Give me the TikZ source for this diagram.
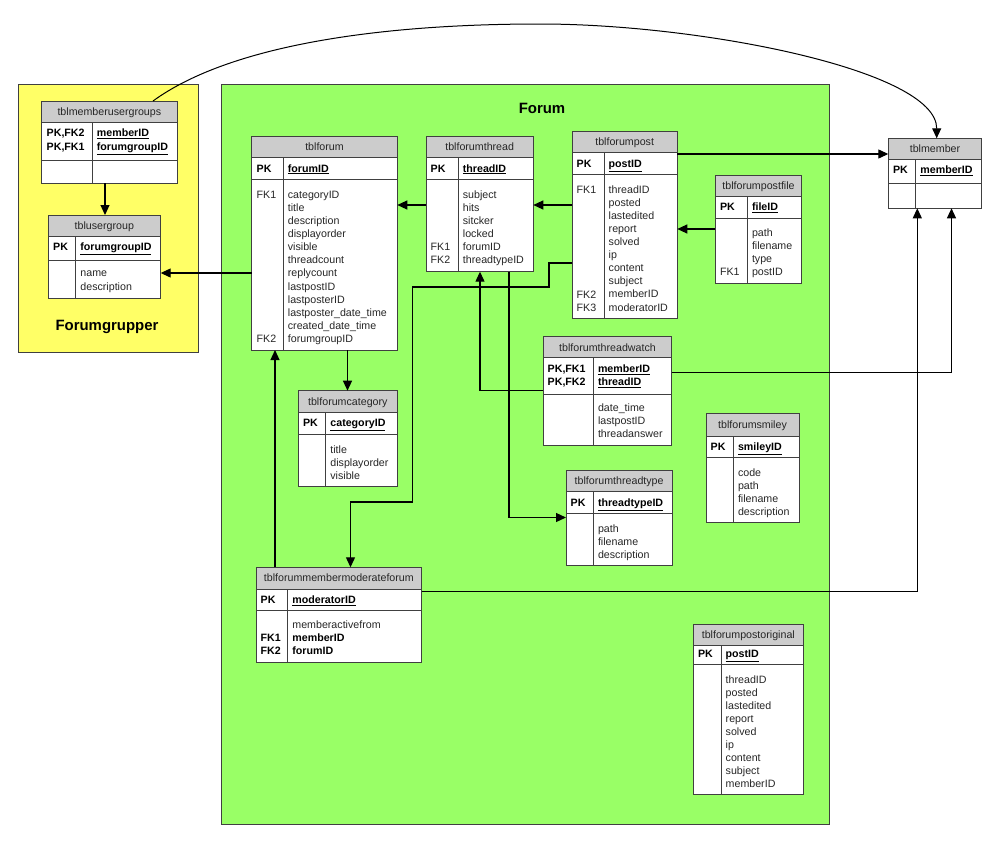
\documentclass[tikz,border=0pt]{standalone}
\usepackage{fontspec}
\setmainfont{Liberation Sans}
\usetikzlibrary{arrows.meta,fit}
\definecolor{forumgreen}{RGB}{153,255,102}
\definecolor{groupyellow}{RGB}{255,255,102}
\definecolor{hdrgray}{RGB}{204,204,204}
\definecolor{txtgray}{RGB}{38,38,38}
\definecolor{linegray}{RGB}{64,64,64}
\tikzset{
 tblframe/.style={draw=linegray, line width=0.9bp, inner sep=0pt, outer sep=0pt, rectangle},
 tblline/.style={draw=linegray, line width=0.9bp},
 hdrfill/.style={fill=hdrgray},
 hdrtext/.style={anchor=base, inner sep=0pt, text=txtgray, font=\fontsize{10.7}{13}\selectfont},
 fieldtxt/.style={anchor=base west, inner sep=0pt, text=txtgray, font=\fontsize{10.7}{13}\selectfont},
 keytxt/.style={anchor=base west, inner sep=0pt, text=black, font=\fontsize{10.7}{13}\selectfont\bfseries},
 fk/.style={draw=black, line width=1.2bp, -{Triangle[length=10bp,width=9bp]}},
 area/.style={draw=linegray, line width=0.9bp, inner sep=0pt, outer sep=0pt, rectangle},
 areatitle/.style={font=\fontsize{15}{18}\selectfont\bfseries, inner sep=0pt, anchor=base}
}
% #1 name, #2 left, #3 top, #4 right, #5 header bottom, #6 pk bottom, #7 bottom, #8 divider x, #9 title
\newcommand\ertable[9]{%
 \fill[hdrfill] (#2,#3) rectangle (#4,#5);
 \fill[white] (#2,#5) rectangle (#4,#7);
 \draw[tblline] (#2,#5) -- (#4,#5) (#2,#6) -- (#4,#6) (#8,#5) -- (#8,#7);
 \node[tblframe, fit={(#2,#3) (#4,#7)}] (#1) {};
 \node[hdrtext] (#1-title) at ({(#2+#4)/2},{(#3+#5)/2+3.8}) {#9};
}
\newcommand\erkey[4]{\node[keytxt] (#1) at (#2,{#3+3.8}) {#4};}
\newcommand\erfield[4]{\node[fieldtxt] (#1) at (#2,{#3+3.8}) {#4};}
\newcommand\erfields[5]{\foreach \fieldname [count=\fieldno] in {#5} {\node[fieldtxt] (#1-\fieldno) at (#2,{#3+3.8+(\fieldno-1)*#4}) {\fieldname};}}
\begin{document}
\begin{tikzpicture}[x=1bp,y=-1bp]
\fill[white] (0,0) rectangle (1000,847);
\useasboundingbox (0,0) rectangle (1000,847);

% areas
\node[area, fill=groupyellow, fit={(18,84) (198,352)}] (forumgrupper) {};
\node[area, fill=forumgreen, fit={(221,84) (829,824)}] (forum) {};
\node[areatitle] (forumgrupper-title) at (107,330.3) {Forumgrupper};
\node[areatitle] (forum-title) at (542,113.4) {Forum};

% tblmemberusergroups
\ertable{tblmemberusergroups}{41.7}{101}{177}{122.7}{160}{183}{92}{tblmemberusergroups}
\erkey{tblmemberusergroups-k1}{46.5}{133}{PK,FK2}
\erkey{tblmemberusergroups-k2}{46.5}{146.7}{PK,FK1}
\erkey{tblmemberusergroups-p1}{96.7}{133}{\underline{memberID}}
\erkey{tblmemberusergroups-p2}{96.7}{146.7}{\underline{forumgroupID}}

% tblusergroup
\ertable{tblusergroup}{48}{215}{160.7}{236.7}{260}{298}{75.7}{tblusergroup}
\erkey{tblusergroup-k}{53}{246.7}{PK}
\erkey{tblusergroup-p}{80.2}{246.7}{\underline{forumgroupID}}
\erfields{tblusergroup-f}{80.2}{273}{13.3}{name,description}

% tblforum
\ertable{tblforum}{251.7}{136.5}{397.3}{157.7}{179.3}{350}{283.3}{tblforum}
\erkey{tblforum-k}{256.5}{168.3}{PK}
\erkey{tblforum-p}{287.7}{168.3}{\underline{forumID}}
\erfields{tblforum-f}{287.7}{195}{13.03}{categoryID,title,description,displayorder,visible,threadcount,replycount,lastpostID,lastposterID,lastposter\_date\_time,created\_date\_time,forumgroupID}
\erfield{tblforum-fk1}{256.5}{195}{FK1}
\erfield{tblforum-fk2}{256.5}{338.3}{FK2}

% tblforumthread
\ertable{tblforumthread}{426}{136.5}{533.3}{157.7}{179.3}{271.7}{458.3}{tblforumthread}
\erkey{tblforumthread-k}{430.5}{168.3}{PK}
\erkey{tblforumthread-p}{462.7}{168.3}{\underline{threadID}}
\erfields{tblforumthread-f}{462.7}{195}{13}{subject,hits,sitcker,locked,forumID,threadtypeID}
\erfield{tblforumthread-fk1}{430.5}{247}{FK1}
\erfield{tblforumthread-fk2}{430.5}{260}{FK2}

% tblforumpost
\ertable{tblforumpost}{572}{131}{677.3}{152.7}{174.3}{318.3}{604}{tblforumpost}
\erkey{tblforumpost-k}{576.5}{163.3}{PK}
\erkey{tblforumpost-p}{608.5}{163.3}{\underline{postID}}
\erfields{tblforumpost-f}{608.5}{189.3}{13.1}{threadID,posted,lastedited,report,solved,ip,content,subject,memberID,moderatorID}
\erfield{tblforumpost-fk1}{576.5}{189.3}{FK1}
\erfield{tblforumpost-fk2}{576.5}{294.2}{FK2}
\erfield{tblforumpost-fk3}{576.5}{307.3}{FK3}

% tblforumpostfile
\ertable{tblforumpostfile}{715.3}{175}{801.7}{196}{218.3}{283.3}{747.3}{tblforumpostfile}
\erkey{tblforumpostfile-k}{719.8}{206.7}{PK}
\erkey{tblforumpostfile-p}{751.8}{206.7}{\underline{fileID}}
\erfields{tblforumpostfile-f}{751.8}{232.7}{13}{path,filename,type,postID}
\erfield{tblforumpostfile-fk1}{719.8}{271.7}{FK1}

% tblmember
\ertable{tblmember}{888.3}{138.3}{981.7}{159.3}{183.3}{208.3}{915.7}{tblmember}
\erkey{tblmember-k}{892.8}{170}{PK}
\erkey{tblmember-p}{920.2}{170}{\underline{memberID}}

% tblforumcategory
\ertable{tblforumcategory}{298.3}{390.7}{397.3}{412.3}{434}{486.7}{325.7}{tblforumcategory}
\erkey{tblforumcategory-k}{302.8}{422.7}{PK}
\erkey{tblforumcategory-p}{330.2}{422.7}{\underline{categoryID}}
\erfields{tblforumcategory-f}{330.2}{449.3}{13}{title,displayorder,visible}

% tblforumthreadwatch
\ertable{tblforumthreadwatch}{543.3}{336.7}{671.7}{357.7}{394}{445}{593.3}{tblforumthreadwatch}
\erkey{tblforumthreadwatch-k1}{547.5}{369}{PK,FK1}
\erkey{tblforumthreadwatch-k2}{547.5}{381.7}{PK,FK2}
\erkey{tblforumthreadwatch-p1}{597.8}{369}{\underline{memberID}}
\erkey{tblforumthreadwatch-p2}{597.8}{381.7}{\underline{threadID}}
\erfields{tblforumthreadwatch-f}{597.8}{407.7}{13}{date\_time,lastpostID,threadanswer}

% tblforumthreadtype
\ertable{tblforumthreadtype}{566}{470}{672.3}{491.7}{513.3}{565}{593.3}{tblforumthreadtype}
\erkey{tblforumthreadtype-k}{570.5}{502.3}{PK}
\erkey{tblforumthreadtype-p}{597.8}{502.3}{\underline{threadtypeID}}
\erfields{tblforumthreadtype-f}{597.8}{528.3}{13}{path,filename,description}

% tblforumsmiley
\ertable{tblforumsmiley}{706}{413.3}{799}{436}{457.7}{522.7}{733.3}{tblforumsmiley}
\erkey{tblforumsmiley-k}{710.5}{446.7}{PK}
\erkey{tblforumsmiley-p}{737.8}{446.7}{\underline{smileyID}}
\erfields{tblforumsmiley-f}{737.8}{472.7}{13}{code,path,filename,description}

% tblforummembermoderateforum
\ertable{tblforummembermoderateforum}{256}{567.3}{421.7}{589}{610.7}{662.3}{287.7}{tblforummembermoderateforum}
\erkey{tblforummembermoderateforum-k}{260.5}{600}{PK}
\erkey{tblforummembermoderateforum-p}{292.2}{600}{\underline{moderatorID}}
\erfield{tblforummembermoderateforum-f1}{292.2}{625}{memberactivefrom}
\erkey{tblforummembermoderateforum-f2}{292.2}{638}{memberID}
\erkey{tblforummembermoderateforum-f3}{292.2}{651}{forumID}
\erkey{tblforummembermoderateforum-fk1}{260.5}{638}{FK1}
\erkey{tblforummembermoderateforum-fk2}{260.5}{651}{FK2}

% tblforumpostoriginal
\ertable{tblforumpostoriginal}{693.3}{624}{803.3}{645}{664.3}{794.5}{721}{tblforumpostoriginal}
\erkey{tblforumpostoriginal-k}{697.8}{653.8}{PK}
\erkey{tblforumpostoriginal-p}{725.5}{653.8}{\underline{postID}}
\erfields{tblforumpostoriginal-f}{725.5}{679.3}{13}{threadID,posted,lastedited,report,solved,ip,content,subject,memberID}

% connectors
\draw[fk] (tblmemberusergroups.south -| 105,0) -- (tblusergroup.north -| 105,0);
\draw[fk] (tblforum.west |- 0,273) -- (tblusergroup.east |- 0,273);
\draw[fk] (tblforumthread.west |- 0,205) -- (tblforum.east |- 0,205);
\draw[fk] (tblforumpost.west |- 0,205) -- (tblforumthread.east |- 0,205);
\draw[fk] (tblforumpostfile.west |- 0,229) -- (tblforumpost.east |- 0,229);
\draw[fk] (tblforumpost.east |- 0,154) -- (tblmember.west |- 0,154);
\draw[fk, line width=1bp] (tblmemberusergroups.north -| 153,0) .. controls (230,45) and (380,24) .. (540,24) .. controls (700,24) and (936.7,70) .. (tblmember.north -| 936.7,0);
\draw[fk] (tblforummembermoderateforum.north -| 275,0) -- (tblforum.south -| 275,0);
\draw[fk] (tblforum.south -| 347.5,0) -- (tblforumcategory.north -| 347.5,0);
\draw[fk] (tblforumpost.west |- 0,263) -- (549,263) -- (549,287) -- (412.5,287) -- (412.5,502) -- (350.5,502) -- (tblforummembermoderateforum.north -| 350.5,0);
\draw[fk] (tblforumthreadwatch.west |- 0,390.7) -| (tblforumthread.south -| 480,0);
\draw[fk] (tblforumthread.south -| 509,0) |- (tblforumthreadtype.west |- 0,517.5);
\draw[fk] (tblforumthreadwatch.east |- 0,372.7) -| (tblmember.south -| 951.5,0);
\draw[fk] (tblforummembermoderateforum.east |- 0,591.5) -| (tblmember.south -| 917.3,0);
\end{tikzpicture}
\end{document}
